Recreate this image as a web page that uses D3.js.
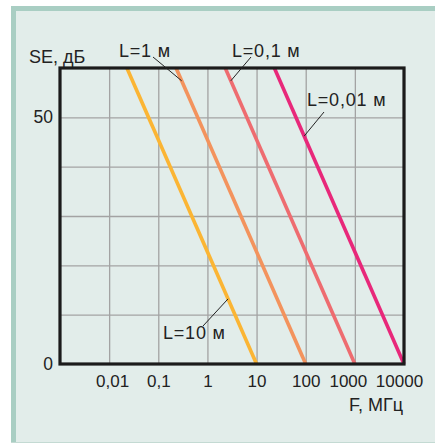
<!DOCTYPE html>
<html>
<head>
<meta charset="utf-8">
<script src="https://d3js.org/d3.v7.min.js"></script>
<style>
  body { margin: 0; background: #fff; }
  svg text { font-family: "Liberation Sans", Arial, Helvetica, sans-serif; fill: #222; }
</style>
</head>
<body>
<div id="chart"></div>
<script>
// frequency ticks (MHz) and their labels
const freqTicks = [0.01, 0.1, 1, 10, 100, 1000, 10000]
const freqLabels = ["0,01", "0,1", "1", "10", "100", "1000", "10000"]
const seGrid = [10, 20, 30, 40, 50]
const seTicks = [0, 50]

// series: [F (MHz), SE (dB)]
const seriesNames = ["L=10 м", "L=1 м", "L=0,1 м", "L=0,01 м"]
const l10 = [[0.023, 60], [10, 0]]
const l1 = [[0.23, 60], [100, 0]]
const l01 = [[2.3, 60], [1000, 0]]
const l001 = [[23, 60], [10000, 0]]
const seriesColors = ["#fbb534", "#f3935d", "#ee6c70", "#e8287a"]

const width = 435
const height = 444
const margin = {top: 68, right: 31, bottom: 80, left: 60}

const svg = d3.select("#chart")
    .append("svg")
    .attr("width", width)
    .attr("height", height)

// panel background
svg.append("rect").attr("x", 11).attr("y", 6).attr("width", width - 11).attr("height", 437).attr("fill", "#e2edea")
svg.append("rect").attr("x", 11).attr("y", 6).attr("width", width - 11).attr("height", 5).attr("fill", "#a9cec3")
svg.append("rect").attr("x", 11).attr("y", 6).attr("width", 5).attr("height", 437).attr("fill", "#a9cec3")
svg.append("rect").attr("x", 11).attr("y", 442).attr("width", width - 11).attr("height", 1).attr("fill", "#c4dad3")

const x = d3.scaleLog()
    .domain([0.001, 10000])
    .range([margin.left, width - margin.right])

const y = d3.scaleLinear()
    .domain([0, 60])
    .range([height - margin.bottom, margin.top])

const plotH = height - margin.bottom - margin.top
const plotW = width - margin.right - margin.left

// grid
const xGrid = svg.append("g")
    .attr("transform", `translate(0, ${height - margin.bottom})`)
    .call(d3.axisBottom(x).tickValues(freqTicks).tickSize(-plotH).tickFormat(""))
const yGrid = svg.append("g")
    .attr("transform", `translate(${margin.left}, 0)`)
    .call(d3.axisLeft(y).tickValues(seGrid).tickSize(-plotW).tickFormat(""))
;[xGrid, yGrid].forEach(g => {
    g.select(".domain").remove()
    g.selectAll("line").attr("stroke", "#a3a3a3").attr("stroke-width", 1.3)
})

// curves
const line = d3.line()
    .x(d => x(d[0]))
    .y(d => y(d[1]))

const allSeries = [l10, l1, l01, l001]
svg.append("g")
    .selectAll("path")
    .data(allSeries)
    .enter().append("path")
    .attr("d", line)
    .attr("fill", "none")
    .attr("stroke", (d, i) => seriesColors[i])
    .attr("stroke-width", 3.6)

// plot frame
svg.append("rect")
    .attr("x", margin.left)
    .attr("y", margin.top)
    .attr("width", plotW)
    .attr("height", plotH)
    .attr("fill", "none")
    .attr("stroke", "#1b1b1b")
    .attr("stroke-width", 3.2)

// point on a series at a given SE (log interpolation in F)
function pointAt(s, se) {
    const t = (se - s[0][1]) / (s[1][1] - s[0][1])
    const lf = Math.log10(s[0][0]) + t * (Math.log10(s[1][0]) - Math.log10(s[0][0]))
    return [x(Math.pow(10, lf)), y(se)]
}

// labels: text position, leader start, SE where leader hits the curve
const labels = [
    {tx: 163, ty: 339, lx: 203, ly: 326, se: 13.2},
    {tx: 119, ty: 57, lx: 153, ly: 57, se: 57.4},
    {tx: 232, ty: 57, lx: 251, ly: 57, se: 57.4},
    {tx: 307, ty: 106, lx: 324, ly: 112, se: 46.2}
]

labels.forEach((lb, i) => {
    const p = pointAt(allSeries[i], lb.se)
    svg.append("line")
        .attr("x1", lb.lx).attr("y1", lb.ly)
        .attr("x2", p[0]).attr("y2", p[1])
        .attr("stroke", "#222")
        .attr("stroke-width", 1)
    svg.append("text")
        .attr("x", lb.tx)
        .attr("y", lb.ty)
        .attr("font-size", 18)
        .attr("letter-spacing", 0.8)
        .text(seriesNames[i])
})

// axes labels
const xAxis = svg.append("g")
    .attr("transform", `translate(0, ${height - margin.bottom})`)
    .call(d3.axisBottom(x).tickValues(freqTicks).tickSize(0).tickPadding(11)
        .tickFormat((d, i) => freqLabels[i]))
xAxis.select(".domain").remove()
xAxis.selectAll("text")
    .attr("font-size", 17)
    .attr("font-family", null)
    .attr("fill", "#222")
    .attr("dx", (d, i) => [3, 0, 0, 0, 0, -7, -5][i])

const yAxis = svg.append("g")
    .attr("transform", `translate(${margin.left}, 0)`)
    .call(d3.axisLeft(y).tickValues(seTicks).tickSize(0).tickPadding(7))
yAxis.select(".domain").remove()
yAxis.selectAll("text")
    .attr("font-size", 17.5)
    .attr("font-family", null)
    .attr("fill", "#222")

// axis titles
svg.append("text")
    .attr("x", 29)
    .attr("y", 63)
    .attr("font-size", 18)
    .text("SE, дБ")

svg.append("text")
    .attr("x", 349)
    .attr("y", 411)
    .attr("font-size", 18)
    .text("F, МГц")
</script>
</body>
</html>
